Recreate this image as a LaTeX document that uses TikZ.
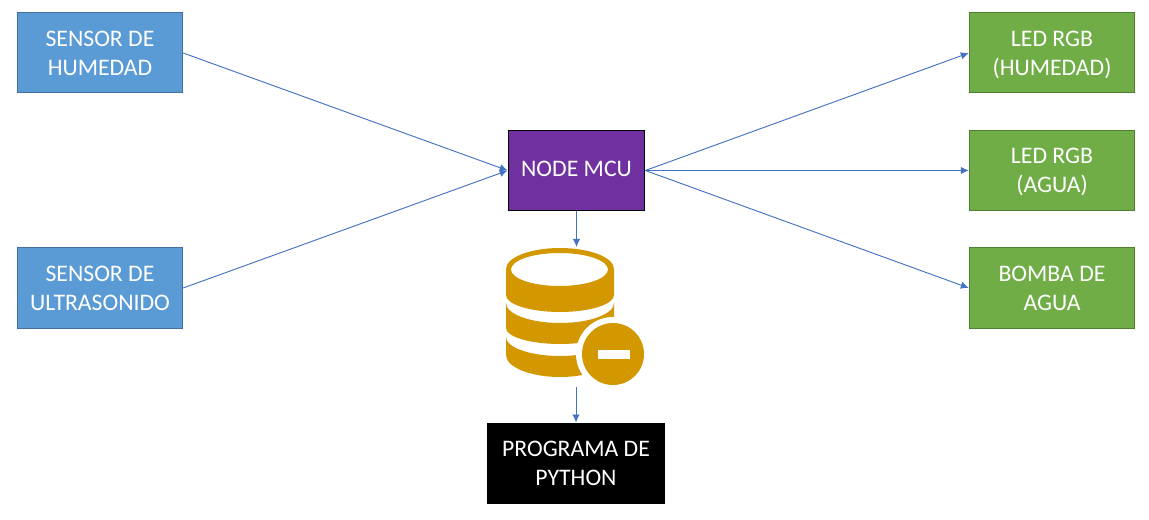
\documentclass[tikz,border=0pt]{standalone}
\usepackage{fontspec}
\setmainfont{Carlito}
\usetikzlibrary{arrows.meta}
\definecolor{bluef}{HTML}{5B9BD5}
\definecolor{blued}{HTML}{41719C}
\definecolor{greenf}{HTML}{70AD47}
\definecolor{greend}{HTML}{507E32}
\definecolor{purplef}{HTML}{7030A0}
\definecolor{linkc}{HTML}{4472C4}
\definecolor{goldc}{HTML}{D39800}
\newcommand{\rowtop}[1]{\rule{0pt}{#1pt}}
\tikzset{
  x=0.75pt,y=-0.75pt,
  boxbase/.style={draw,line width=0.75pt,minimum height=60pt,align=center,text=white,
     inner sep=0pt,font=\fontsize{17.8pt}{21.8pt}\selectfont,anchor=center},
  inbox/.style={boxbase,fill=bluef,draw=blued,minimum width=124pt},
  outbox/.style={boxbase,fill=greenf,draw=greend,minimum width=124pt},
  mcubox/.style={boxbase,fill=purplef,draw=black,minimum width=102.5pt},
  pybox/.style={boxbase,fill=black,draw=black,minimum width=133pt},
  link/.style={draw=linkc,line width=0.7pt,-{Latex[length=6pt,width=5.5pt]}},
}
\begin{document}
\begin{tikzpicture}
\useasboundingbox (0,0) rectangle (1149,520);
\node[inbox] (s1) at (100,53) {\rowtop{15}SENSOR DE\\HUMEDAD\rule[-3.5pt]{0pt}{3.5pt}};
\node[inbox] (s2) at (100,288) {\rowtop{15}SENSOR DE\\ULTRASONIDO\rule[-3.5pt]{0pt}{3.5pt}};
\node[mcubox] (mcu) at (576.5,170.5) {\rowtop{12}NODE MCU\rule[-3.5pt]{0pt}{3.5pt}};
\node[outbox] (o1) at (1052,53) {\rowtop{15}LED RGB\\(HUMEDAD)\rule[-3.5pt]{0pt}{3.5pt}};
\node[outbox] (o2) at (1052,170.5) {\rowtop{15}LED RGB\\(AGUA)\rule[-3.5pt]{0pt}{3.5pt}};
\node[outbox] (o3) at (1052,288) {\rowtop{15}BOMBA DE\\AGUA\rule[-3.5pt]{0pt}{3.5pt}};
\node[pybox] (py) at (576,463) {\rowtop{15}PROGRAMA DE\\PYTHON\rule[-3.5pt]{0pt}{3.5pt}};
% database icon
\fill[goldc,even odd rule]
  (506,269) arc[start angle=180,end angle=360,x radius=54,y radius=21]
  -- (614,295) arc[start angle=0,end angle=180,x radius=54,y radius=17] -- cycle
  (511,269.5) arc[start angle=180,end angle=-180,x radius=48.5,y radius=16.5];
\fill[goldc] (506,303) arc[start angle=180,end angle=0,x radius=54,y radius=20]
  -- (614,328) arc[start angle=0,end angle=180,x radius=54,y radius=16] -- cycle;
\fill[goldc] (506,337) arc[start angle=180,end angle=0,x radius=54,y radius=19]
  -- (614,355) arc[start angle=0,end angle=180,x radius=54,y radius=22] -- cycle;
\fill[white] (613,354) circle[radius=37];
\fill[goldc] (613,354) circle[radius=31];
\fill[white] (598,350) rectangle (630,359);
\coordinate (dbin) at (576.5,247);
\coordinate (dbout) at (576,387);
\draw[link] (s1.east) -- (mcu.west);
\draw[link] (s2.east) -- (mcu.west);
\draw[link] (mcu.east) -- (o1.west);
\draw[link] (mcu.east) -- (o2.west);
\draw[link] (mcu.east) -- (o3.west);
\draw[link] (mcu.south) -- (dbin);
\draw[link] (dbout) -- (py.north);
\end{tikzpicture}
\end{document}
